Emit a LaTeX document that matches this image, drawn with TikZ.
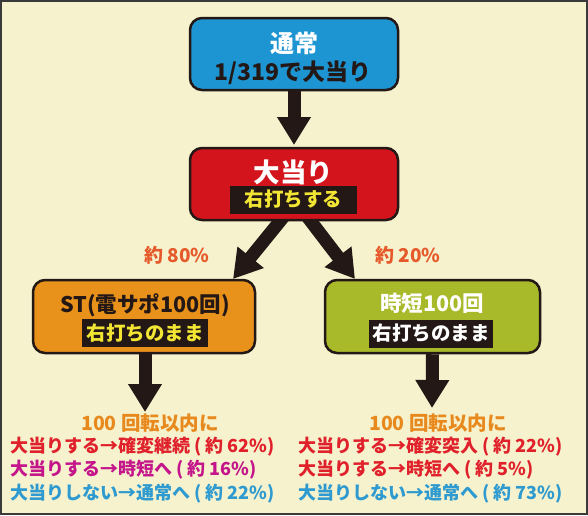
\documentclass[tikz,border=0pt]{standalone}
\usepackage{fontspec}
\setmainfont{Noto Sans CJK JP}
\usetikzlibrary{arrows.meta}
\definecolor{bgc}{HTML}{F5F2CD}
\definecolor{framec}{HTML}{3A3A3A}
\definecolor{bluec}{HTML}{1E95D3}
\definecolor{redc}{HTML}{D4141C}
\definecolor{orangec}{HTML}{E8921C}
\definecolor{greenc}{HTML}{A8B92A}
\definecolor{darkc}{HTML}{231815}
\definecolor{yellowc}{HTML}{F2E534}
\definecolor{pctc}{HTML}{E5592A}
\definecolor{headc}{HTML}{E8891E}
\definecolor{linered}{HTML}{E0212B}
\definecolor{linemag}{HTML}{C4168A}
\definecolor{lineblue}{HTML}{2E9AD0}
\tikzset{
  box/.style={draw=darkc, line width=2.5pt, rounded corners=12pt, inner sep=0pt},
  bar/.style={fill=darkc, inner sep=0pt, minimum height=28pt},
  bigarrow/.style={draw=darkc, line width=13pt, -{Triangle[width=32pt,length=28pt]}},
  ttl/.style={font=\fontsize{25}{28}\selectfont\bfseries, inner sep=0pt},
  sub/.style={font=\fontsize{19.5}{22}\selectfont\bfseries, inner sep=0pt},
  pct/.style={font=\fontsize{19}{21}\selectfont\bfseries, text=pctc, inner sep=0pt},
  res/.style={font=\fontsize{18}{20}\selectfont\bfseries, inner sep=0pt, anchor=west},
  hd/.style={font=\fontsize{19.5}{21}\selectfont\bfseries, text=headc, inner sep=0pt}
}
\begin{document}
\begin{tikzpicture}[x=1pt,y=-1pt]
\useasboundingbox (0,0) rectangle (588,515);
\fill[bgc] (0,0) rectangle (588,515);
\draw[framec, line width=2pt] (1,1) rectangle (587,514);

% boxes
\node[box, fill=bluec, minimum width=208pt, minimum height=72pt] (tsujo) at (294,54) {};
\node[box, fill=orangec, minimum width=222pt, minimum height=73pt] (st) at (144,316.5) {};
\node[box, fill=greenc, minimum width=215pt, minimum height=73pt] (jt) at (432.5,316.5) {};

% arrows
\coordinate (dl) at (285,215);
\coordinate (dr) at (306,215);
\coordinate (tl) at (233,279);
\coordinate (tr) at (355,279);
\draw[bigarrow] (tsujo.south) -- (294,145);
\draw[bigarrow] (dl) -- (tl);
\draw[bigarrow] (dr) -- (tr);
\draw[bigarrow] ([xshift=1pt]st.south) -- (145,412);
\draw[bigarrow] (jt.south) -- (432,408);
\node[box, fill=redc, minimum width=208pt, minimum height=72pt] (oo) at (294,184) {};

% texts
\node[ttl, text=white, font=\fontsize{24}{26}\selectfont\bfseries] (t1) at (294,43) {通常};
\node[sub, text=darkc, font=\fontsize{23}{25}\selectfont\bfseries] (t2) at (293,73) {1/319で大当り};

\node[ttl, text=white, font=\fontsize{26.5}{28}\selectfont\bfseries] (o1) at (293.5,172) {大当り};
\node[bar, minimum width=127pt] (ob) at (293.5,199.5) {};
\node[sub, text=yellowc] (o2) at (ob) {右打ちする};

\node[sub, text=darkc, font=\fontsize{21.5}{24}\selectfont\bfseries] (s1) at (145,305) {ST(電サポ100回)};
\node[bar, minimum width=126pt] (sb) at (145,333) {};
\node[sub, text=yellowc] (s2) at (sb) {右打ちのまま};

\node[ttl, text=white, font=\fontsize{21.5}{24}\selectfont\bfseries] (j1) at (432,303) {時短100回};
\node[bar, minimum width=124pt] (jb) at (431,333.5) {};
\node[sub, text=white] (j2) at (jb) {右打ちのまま};

\node[pct] (p80) at (177,255) {約 80\%};
\node[pct] (p20) at (408,255) {約 20\%};

\node[hd] (lh) at (150,423) {100 回転以内に};
\node[res, text=linered] (l1) at (10,447) {大当りする→確変継続 ( 約 62\%)};
\node[res, text=linemag] (l2) at (10,470) {大当りする→時短へ ( 約 16\%)};
\node[res, text=lineblue] (l3) at (10,494) {大当りしない→通常へ ( 約 22\%)};

\node[hd] (rh) at (438,423) {100 回転以内に};
\node[res, text=linered] (r1) at (298,447) {大当りする→確変突入 ( 約 22\%)};
\node[res, text=linered] (r2) at (298,470) {大当りする→時短へ ( 約 5\%)};
\node[res, text=lineblue] (r3) at (298,494) {大当りしない→通常へ ( 約 73\%)};
\end{tikzpicture}
\end{document}
